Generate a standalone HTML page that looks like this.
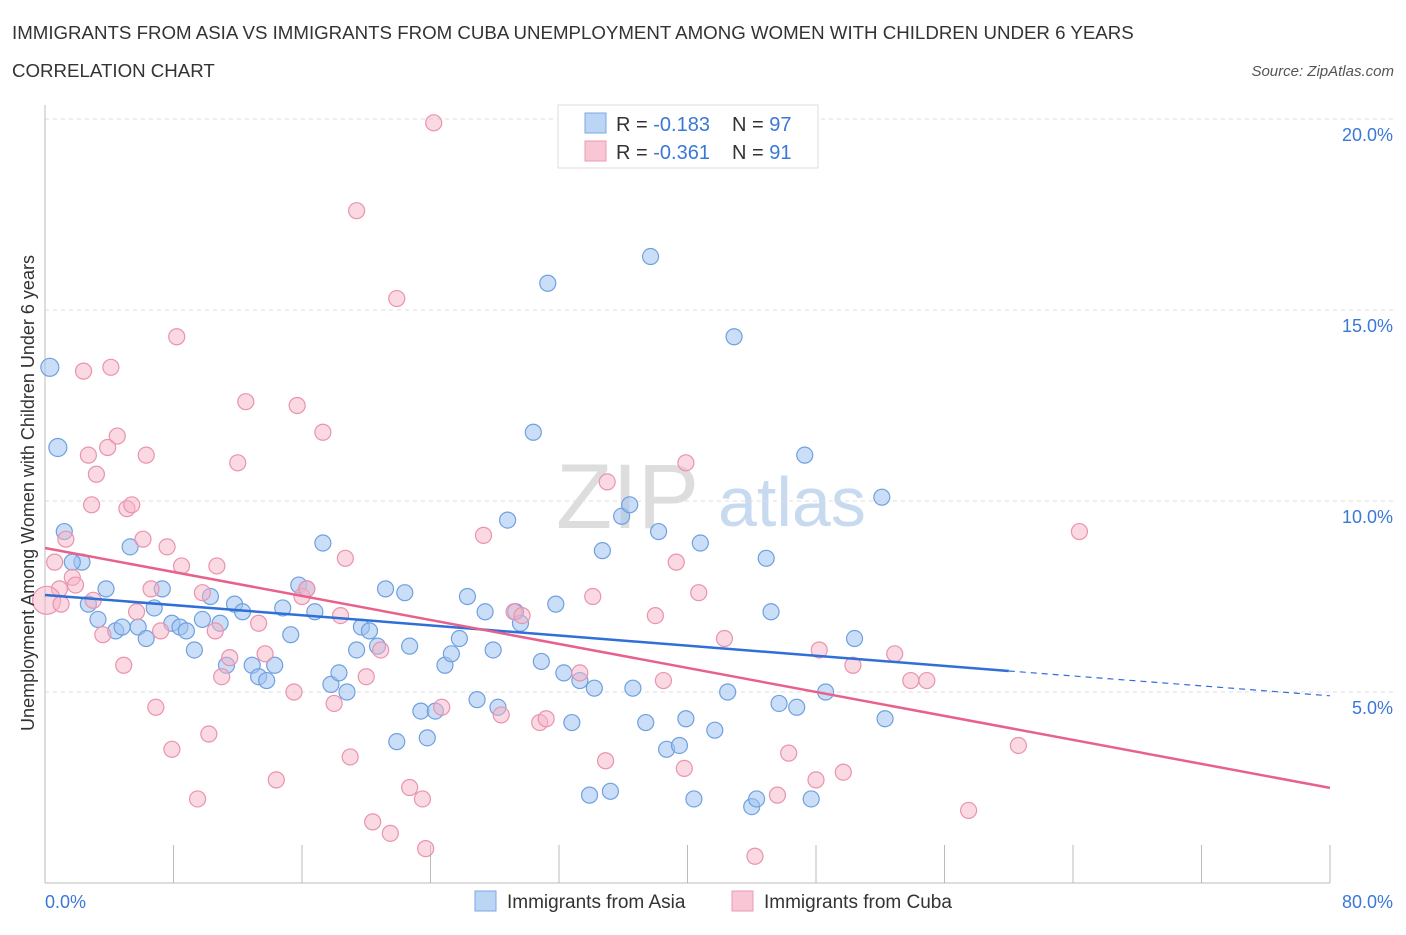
<!DOCTYPE html>
<html><head><meta charset="utf-8"><style>
body{margin:0;background:#fff;font-family:"Liberation Sans",sans-serif;}
svg text{font-family:"Liberation Sans",sans-serif;}
</style></head><body>
<svg id="chart" width="1406" height="930">
<text x="12" y="39" font-size="18.7" fill="#333">IMMIGRANTS FROM ASIA VS IMMIGRANTS FROM CUBA UNEMPLOYMENT AMONG WOMEN WITH CHILDREN UNDER 6 YEARS</text>
<text x="12" y="77" font-size="18.7" fill="#333">CORRELATION CHART</text>
<text x="1394" y="76" font-size="15" fill="#555" font-style="italic" text-anchor="end">Source: ZipAtlas.com</text>
<text x="556" y="528" font-size="92" fill="#ddd" font-family="Liberation Serif">ZIP</text>
<text x="718" y="526" font-size="70" fill="#c8daf0">atlas</text>
<g id="grid"></g>
<g id="axes"></g>
<g id="pts"></g>
<g id="trend"></g>
<text transform="translate(34,493) rotate(-90)" font-size="18" fill="#333" text-anchor="middle">Unemployment Among Women with Children Under 6 years</text>
<text x="45" y="908" font-size="18" fill="#3a78d8">0.0%</text>
<text x="1393" y="908" font-size="18" fill="#3a78d8" text-anchor="end">80.0%</text>
<g>
<rect x="558" y="105" width="260" height="63" fill="#fff" stroke="#ddd"/>
<rect x="585" y="113" width="21" height="20" fill="#bcd5f5" stroke="#7aa8e6"/>
<rect x="585" y="141" width="21" height="20" fill="#f8c6d4" stroke="#ec9ab2"/>
<text x="616" y="131" font-size="20" fill="#333">R = <tspan fill="#3a78d8">-0.183</tspan><tspan x="732">N = </tspan><tspan fill="#3a78d8">97</tspan></text>
<text x="616" y="159" font-size="20" fill="#333">R = <tspan fill="#3a78d8">-0.361</tspan><tspan x="732">N = </tspan><tspan fill="#3a78d8"> 91</tspan></text>
</g>
<g>
<rect x="475" y="891" width="21" height="20" fill="#bcd5f5" stroke="#7aa8e6"/>
<text x="507" y="908" font-size="19" fill="#333">Immigrants from Asia</text>
<rect x="732" y="891" width="21" height="20" fill="#f8c6d4" stroke="#ec9ab2"/>
<text x="764" y="908" font-size="19" fill="#333">Immigrants from Cuba</text>
</g>
</svg>
<script>
const yTicks=[5,10,15,20];
const yTickLabels=["5.0%","10.0%","15.0%","20.0%"];
const xTicks=[0,8,16,24,32,40,48,56,64,72,80];
const asiaX=[0.3,0.8,1.2,2.3,1.7,2.7,3.3,3.8,4.4,4.8,5.3,5.8,6.3,6.8,7.3,7.9,8.4,8.8,9.3,9.8,10.3,10.9,11.3,11.8,12.3,12.9,13.3,13.8,14.3,14.8,15.3,15.8,16.3,16.8,17.3,17.8,18.3,18.8,19.4,19.7,20.2,20.7,21.2,21.9,22.4,22.7,23.4,23.8,24.3,24.9,25.3,25.8,26.3,26.9,27.4,27.9,28.2,28.8,29.3,29.6,30.4,30.9,31.3,31.8,32.3,32.8,33.3,33.9,34.2,34.7,35.2,35.9,36.4,36.6,37.4,37.7,38.2,38.7,39.5,39.9,40.4,40.8,41.7,42.5,42.9,44.0,44.3,44.9,45.2,45.7,46.8,47.3,47.7,48.6,50.4,52.1,52.3];
const asiaY=[13.5,11.4,9.2,8.4,8.4,7.3,6.9,7.7,6.6,6.7,8.8,6.7,6.4,7.2,7.7,6.8,6.7,6.6,6.1,6.9,7.5,6.8,5.7,7.3,7.1,5.7,5.4,5.3,5.7,7.2,6.5,7.8,7.7,7.1,8.9,5.2,5.5,5.0,6.1,6.7,6.6,6.2,7.7,3.7,7.6,6.2,4.5,3.8,4.5,5.7,6.0,6.4,7.5,4.8,7.1,6.1,4.6,9.5,7.1,6.8,11.8,5.8,15.7,7.3,5.5,4.2,5.3,2.3,5.1,8.7,2.4,9.6,9.9,5.1,4.2,16.4,9.2,3.5,3.6,4.3,2.2,8.9,4.0,5.0,14.3,2.0,2.2,8.5,7.1,4.7,4.6,11.2,2.2,5.0,6.4,10.1,4.3];
const cubaX=[0.6,0.9,1.3,1.7,1.9,2.4,2.7,2.9,3.2,3.6,3.9,4.1,4.5,4.9,5.1,5.4,5.7,6.1,6.3,6.6,6.9,7.2,7.6,7.9,8.2,8.5,9.5,9.8,10.2,10.6,10.7,11.0,11.5,12.0,12.5,13.3,13.7,14.4,15.5,15.7,16.0,16.3,17.3,18.0,18.4,18.7,19.0,19.4,20.0,20.4,20.9,21.5,21.9,22.7,23.5,23.7,24.2,24.7,27.3,28.4,29.2,29.7,30.8,31.2,33.3,34.1,34.9,35.0,38.0,38.5,39.3,39.8,39.9,40.7,42.3,44.2,45.6,46.3,48.0,48.2,49.7,50.3,52.9,53.9,54.9,57.5,60.6,64.4,0.1,1.0,3.0];
const cubaY=[8.4,7.7,9.0,8.0,7.8,13.4,11.2,9.9,10.7,6.5,11.4,13.5,11.7,5.7,9.8,9.9,7.1,9.0,11.2,7.7,4.6,6.6,8.8,3.5,14.3,8.3,2.2,7.6,3.9,6.6,8.3,5.4,5.9,11.0,12.6,6.8,6.0,2.7,5.0,12.5,7.5,7.7,11.8,4.7,7.0,8.5,3.3,17.6,5.4,1.6,6.1,1.3,15.3,2.5,2.2,0.9,19.9,4.6,9.1,4.4,7.1,7.0,4.2,4.3,5.5,7.5,3.2,10.5,7.0,5.3,8.4,3.0,11.0,7.6,6.4,0.7,2.3,3.4,2.7,6.1,2.9,5.7,6.0,5.3,5.3,1.9,3.6,9.2,7.4,7.3,7.4];
const trendAsiaX=[0,60,80];
const trendAsiaY=[7.54,5.55,4.9];
const trendCubaX=[0,80];
const trendCubaY=[8.77,2.49];
const X0=45,X1=1330,Y0=883,Ytop=119;
const sx=v=>X0+(X1-X0)*v/80;
const sy=v=>Y0-(Y0-Ytop)*v/20;
const NS="http://www.w3.org/2000/svg";
function mk(tag,attrs,parent){const e=document.createElementNS(NS,tag);for(const k in attrs)e.setAttribute(k,attrs[k]);document.getElementById(parent).appendChild(e);return e;}
yTicks.forEach((t,i)=>{
 const l=mk('line',{x1:X0,x2:1395,y1:sy(t),y2:sy(t),stroke:'#ddd','stroke-dasharray':'4,4'},'grid');
 
 
 const tx=mk('text',{x:1393,y:sy(t)+22,'font-size':18,fill:'#3a78d8','text-anchor':'end'},'grid');
 tx.textContent=yTickLabels[i];
 
 
});
const ax=mk('line',{x1:X0,x2:X0,y1:105,y2:Y0,stroke:'#bbb'},'axes');


const bx=mk('line',{x1:X0,x2:X1,y1:Y0,y2:Y0,stroke:'#bbb'},'axes');


xTicks.forEach(t=>{
 const l=mk('line',{x1:sx(t),x2:sx(t),y1:845,y2:Y0,stroke:'#bbb'},'axes');
 
 
});
asiaX.forEach((x,i)=>{
 const c=mk('circle',{cx:sx(x),cy:sy(asiaY[i]),r:i<2?9:8,fill:'rgba(160,195,240,0.55)',stroke:'#6fa0e0','stroke-width':1.2},'pts');
 
 
});
cubaX.forEach((x,i)=>{
 const c=mk('circle',{cx:sx(x),cy:sy(cubaY[i]),r:i===88?14:8,fill:'rgba(245,180,200,0.5)',stroke:'#ea93ad','stroke-width':1.2},'pts');
 
 
});
const t1=mk('line',{x1:sx(trendAsiaX[0]),y1:sy(trendAsiaY[0]),x2:sx(trendAsiaX[1]),y2:sy(trendAsiaY[1]),stroke:'#2e6fd8','stroke-width':2.5},'trend');


const t2=mk('line',{x1:sx(trendAsiaX[1]),y1:sy(trendAsiaY[1]),x2:sx(trendAsiaX[2]),y2:sy(trendAsiaY[2]),stroke:'#2e6fd8','stroke-width':1.2,'stroke-dasharray':'6,5'},'trend');


const t3=mk('line',{x1:sx(trendCubaX[0]),y1:sy(trendCubaY[0]),x2:sx(trendCubaX[1]),y2:sy(trendCubaY[1]),stroke:'#e8618c','stroke-width':2.5},'trend');


</script>
</body></html>
